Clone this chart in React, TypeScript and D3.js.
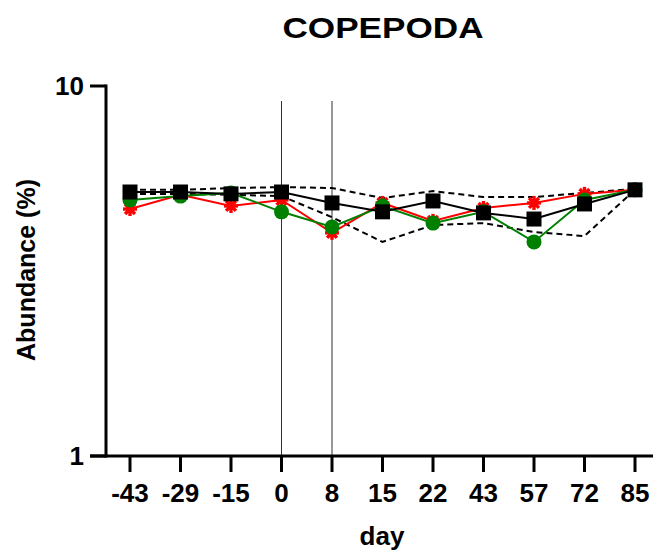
import React from "react";
import * as d3 from "d3";

// Sampling days (categorical axis)
const days = ["-43", "-29", "-15", "0", "8", "15", "22", "43", "57", "72", "85"];

// Abundance (%) per series
const blackSeries = [5.17, 5.17, 5.11, 5.17, 4.83, 4.57, 4.89, 4.54, 4.37, 4.8, 5.24];
const greenSeries = [4.92, 5.04, 5.14, 4.57, 4.16, 4.74, 4.26, 4.57, 3.79, 4.92, 5.24];
const redSeries = [4.65, 5.08, 4.74, 4.92, 4.01, 4.83, 4.32, 4.68, 4.83, 5.11, 5.24];
const upperBand = [5.24, 5.24, 5.3, 5.33, 5.3, 4.98, 5.2, 5.01, 5.01, 5.14, 5.27];
const lowerBand = [5.11, 5.11, 5.08, 5.04, 4.42, 3.79, 4.21, 4.26, 4.03, 3.93, 5.24];

// Reference days marked with vertical lines
const markerDays = ["0", "8"];
const yTicks = [1, 10];

const W = 653;
const H = 553;
const FONT = "'Liberation Sans', Arial, Helvetica, sans-serif";

export default function App() {
  const x = d3.scalePoint<string>().domain(days).range([130, 635]);
  const y = d3.scaleLog().domain([1, 10]).range([456, 86]);

  const line = d3
    .line<number>()
    .x((_, i) => x(days[i]) as number)
    .y((d) => y(d));

  const axisX = 106;
  const axisY = 456;

  const asterisk = (cx: number, cy: number, key: string) => {
    const r = 7;
    const angles = [0, 45, 90, 135];
    return (
      <g key={key}>
        {angles.map((a) => {
          const rad = (a * Math.PI) / 180;
          return (
            <line
              key={a}
              x1={cx - r * Math.cos(rad)}
              y1={cy - r * Math.sin(rad)}
              x2={cx + r * Math.cos(rad)}
              y2={cy + r * Math.sin(rad)}
              stroke="#ff0000"
              strokeWidth={3.4}
            />
          );
        })}
        <circle cx={cx} cy={cy} r={4} fill="#ff0000" />
      </g>
    );
  };

  return (
    <svg
      width={W}
      height={H}
      style={{ position: "absolute", left: 0, top: 0, background: "#fff" }}
      fontFamily={FONT}
    >
      <rect width={W} height={H} fill="#fff" />

      {/* Title */}
      <text
        x={383}
        y={38}
        textAnchor="middle"
        fontSize={30}
        fontWeight="bold"
        textLength={201}
        lengthAdjust="spacingAndGlyphs"
      >
        COPEPODA
      </text>

      {/* Vertical marker lines */}
      {markerDays.map((d) => (
        <line
          key={d}
          x1={x(d)}
          x2={x(d)}
          y1={101}
          y2={axisY}
          stroke="#333"
          strokeWidth={1}
        />
      ))}

      {/* Dashed band lines */}
      <path d={line(upperBand) || ""} fill="none" stroke="#000" strokeWidth={2} strokeDasharray="6,4" />
      <path d={line(lowerBand) || ""} fill="none" stroke="#000" strokeWidth={2} strokeDasharray="6,4" />

      {/* Red series */}
      <path d={line(redSeries) || ""} fill="none" stroke="#ff0000" strokeWidth={2} />
      {redSeries.map((v, i) => asterisk(x(days[i]) as number, y(v), "r" + i))}

      {/* Green series */}
      <path d={line(greenSeries) || ""} fill="none" stroke="#008000" strokeWidth={2} />
      {greenSeries.map((v, i) => (
        <circle key={"g" + i} cx={x(days[i])} cy={y(v)} r={7.5} fill="#008000" />
      ))}

      {/* Black series */}
      <path d={line(blackSeries) || ""} fill="none" stroke="#000" strokeWidth={2} />
      {blackSeries.map((v, i) => (
        <rect
          key={"b" + i}
          x={(x(days[i]) as number) - 7.5}
          y={y(v) - 7.5}
          width={15}
          height={15}
          fill="#000"
        />
      ))}

      {/* Y axis */}
      <line x1={axisX} x2={axisX} y1={y(10) - 1.5} y2={axisY + 1.5} stroke="#000" strokeWidth={3} />
      {yTicks.map((t) => (
        <g key={t}>
          <line x1={90} x2={axisX} y1={y(t)} y2={y(t)} stroke="#000" strokeWidth={3} />
          <text
            x={84}
            y={y(t)}
            dy="0.36em"
            textAnchor="end"
            fontSize={26}
            fontWeight="bold"
          >
            {t}
          </text>
        </g>
      ))}

      {/* X axis */}
      <line x1={90} x2={653} y1={axisY} y2={axisY} stroke="#000" strokeWidth={3} />
      {days.map((d) => (
        <g key={d}>
          <line x1={x(d)} x2={x(d)} y1={axisY} y2={472} stroke="#000" strokeWidth={3} />
          <text x={x(d)} y={502} textAnchor="middle" fontSize={26} fontWeight="bold">
            {d}
          </text>
        </g>
      ))}

      {/* Axis titles */}
      <text x={382} y={545} textAnchor="middle" fontSize={26} fontWeight="bold">
        day
      </text>
      <text
        transform="translate(35,270) rotate(-90)"
        textAnchor="middle"
        fontSize={25}
        fontWeight="bold"
      >
        Abundance (%)
      </text>
    </svg>
  );
}
